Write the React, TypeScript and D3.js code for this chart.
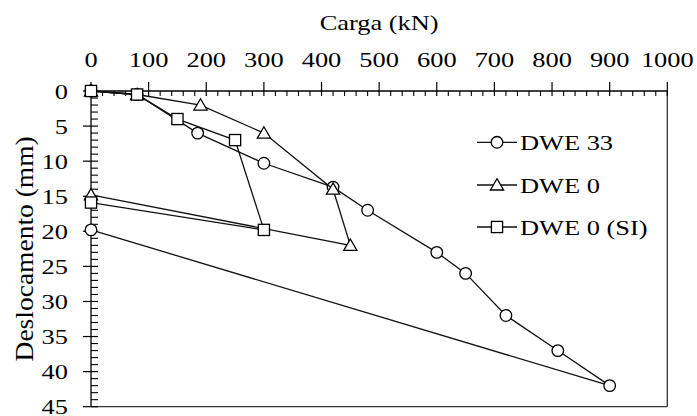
import React from "react";
import * as d3 from "d3";

const xTicks = [0, 100, 200, 300, 400, 500, 600, 700, 800, 900, 1000];
const yTicks = [0, 5, 10, 15, 20, 25, 30, 35, 40, 45];

const load33 = [0, 80, 185, 300, 420, 480, 600, 650, 720, 810, 900, 0];
const disp33 = [0, 0.5, 6, 10.3, 13.7, 17, 23, 26, 32, 37, 42, 19.8];
const load0 = [0, 80, 190, 300, 420, 450, 0];
const disp0 = [0, 0.5, 2, 6, 14, 22, 14.8];
const loadSI = [0, 80, 150, 250, 300, 0];
const dispSI = [0, 0.5, 4, 7, 19.8, 15.9];

const seriesNames = ["DWE 33", "DWE 0", "DWE 0 (SI)"];
const seriesShapes = ["circle", "triangle", "square"];

const W = 697;
const H = 416;
const FONT = "'Liberation Serif', 'Times New Roman', serif";
const SX = 1.2;

function T({ x, y, anchor = "start", size = 22, children }: any) {
  const tr = `translate(${x},${y}) scale(${SX},1)`;
  return (
    <text transform={tr} textAnchor={anchor} fontFamily={FONT} fontSize={size} fill="#000">
      {children}
    </text>
  );
}

function Marker({ shape, cx, cy }: any) {
  const common = { fill: "#fff", stroke: "#000", strokeWidth: 1.3 };
  if (shape === "circle") return <circle cx={cx} cy={cy} r={5.8} {...common} />;
  if (shape === "square") return <rect x={cx - 5.6} y={cy - 5.6} width={11.2} height={11.2} {...common} />;
  return <path d={`M${cx},${cy - 6.3}L${cx + 6.6},${cy + 5}L${cx - 6.6},${cy + 5}Z`} {...common} />;
}

export default function App() {
  const x = d3.scaleLinear().domain([0, 1000]).range([91, 667.3]);
  const y = d3.scaleLinear().domain([0, 45]).range([91, 406.7]);

  const series = [
    { name: seriesNames[0], shape: seriesShapes[0], xs: load33, ys: disp33 },
    { name: seriesNames[1], shape: seriesShapes[1], xs: load0, ys: disp0 },
    { name: seriesNames[2], shape: seriesShapes[2], xs: loadSI, ys: dispSI },
  ];

  const line = d3
    .line<[number, number]>()
    .x((d) => x(d[0]))
    .y((d) => y(d[1]));

  const xMinor = d3.range(0, 1001, 20).filter((v) => v % 100 !== 0);
  const yMinor = d3.range(0, 46, 1).filter((v) => v % 5 !== 0);

  const x0 = x(0), x1 = x(1000), y0 = y(0), y1 = y(45);

  return (
    <svg width={W} height={H} style={{ position: "absolute", left: 0, top: 0, background: "#fff" }}>
      <rect width={W} height={H} fill="#fff" />
      <line x1={x1} y1={y0} x2={x1} y2={y1} stroke="#333" strokeWidth={1.3} />
      <line x1={x0} y1={y1} x2={x1} y2={y1} stroke="#333" strokeWidth={1.3} />
      <line x1={x0} y1={y0} x2={x1} y2={y0} stroke="#000" strokeWidth={1.3} />
      <line x1={x0} y1={y0} x2={x0} y2={y1} stroke="#000" strokeWidth={1.3} />
      {xTicks.map((t) => (
        <line key={"xt" + t} x1={x(t)} x2={x(t)} y1={y0 - 9} y2={y0 + 5} stroke="#000" strokeWidth={1.2} />
      ))}
      {xMinor.map((t) => (
        <line key={"xm" + t} x1={x(t)} x2={x(t)} y1={y0} y2={y0 + 5} stroke="#000" strokeWidth={1.1} />
      ))}
      {yTicks.map((t) => (
        <line key={"yt" + t} x1={x0 - 8} x2={x0 + 7} y1={y(t)} y2={y(t)} stroke="#000" strokeWidth={1.2} />
      ))}
      {yMinor.map((t) => (
        <line key={"ym" + t} x1={x0} x2={x0 + 7} y1={y(t)} y2={y(t)} stroke="#000" strokeWidth={1.1} />
      ))}
      {xTicks.map((t) => (
        <T key={"xl" + t} x={x(t)} y={66.5} anchor="middle">{t}</T>
      ))}
      {yTicks.map((t) => (
        <T key={"yl" + t} x={68} y={y(t) + 7.5} anchor="end">{t}</T>
      ))}
      <T x={(x0 + x1) / 2} y={30} anchor="middle">Carga (kN)</T>
      <g transform={`translate(33,${(y0 + y1) / 2}) scale(0.9,1) rotate(-90)`}>
        <text textAnchor="middle" fontFamily={FONT} fontSize={27.5} fill="#000">Deslocamento (mm)</text>
      </g>
      {series.map((s) => {
        const pts = s.xs.map((v, i) => [v, s.ys[i]] as [number, number]);
        return (
          <g key={s.name}>
            <path d={line(pts) || ""} fill="none" stroke="#111" strokeWidth={1.3} />
            {pts.map((p, i) => (
              <Marker key={i} shape={s.shape} cx={x(p[0])} cy={y(p[1])} />
            ))}
          </g>
        );
      })}
      {series.map((s, i) => {
        const cy = [142.3, 185, 227][i];
        return (
          <g key={"lg" + s.name}>
            <line x1={477} x2={517} y1={cy} y2={cy} stroke="#111" strokeWidth={1.3} />
            <Marker shape={s.shape} cx={497} cy={cy} />
            <T x={520} y={cy + 7.5}>{s.name}</T>
          </g>
        );
      })}
    </svg>
  );
}
